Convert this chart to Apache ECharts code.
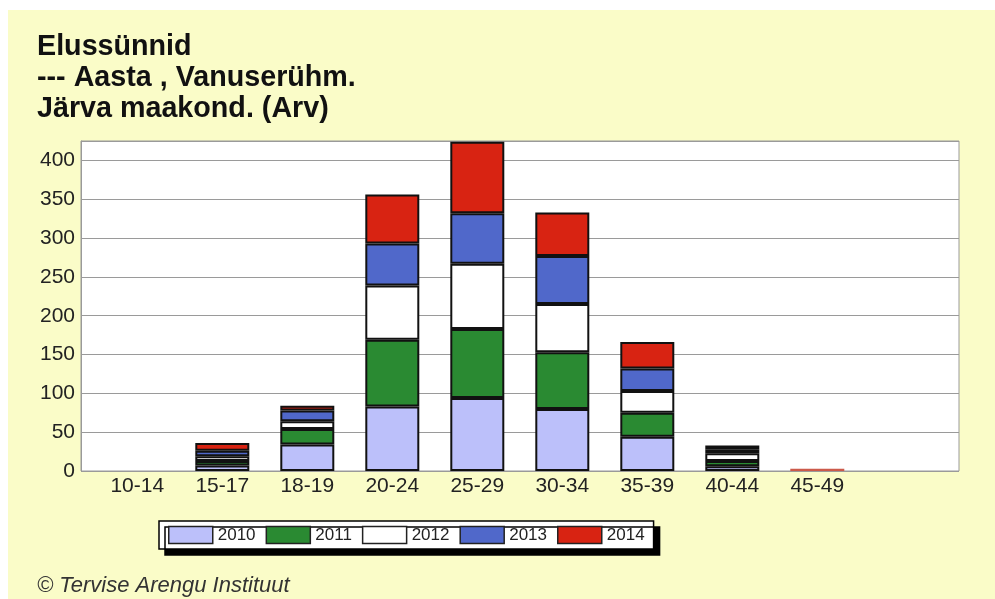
<!DOCTYPE html>
<html>
<head>
<meta charset="utf-8">
<script src="https://cdn.jsdelivr.net/npm/echarts@6/dist/echarts.min.js"></script>
<style>
html,body{margin:0;padding:0;background:#fff;}
#chart{width:995px;height:599px;background:linear-gradient(#FAFCC8,#FAFCC8) 8px 10px / 987px 589px no-repeat,#fff;}
</style>
</head>
<body>
<div id="chart"></div>
<script>
const categories = ['10-14','15-17','18-19','20-24','25-29','30-34','35-39','40-44','45-49'];
const years = ['2010','2011','2012','2013','2014'];
const v2010 = [0, 7, 34, 83, 94, 80, 44, 6, 0];
const v2011 = [0, 6, 20, 86, 89, 73, 31, 7, 0];
const v2012 = [0, 6, 10, 70, 84, 62, 28, 10, 0];
const v2013 = [0, 7, 14, 54, 65, 62, 29, 5, 0];
const v2014 = [0, 10, 6, 63, 92, 56, 34, 5, 3];
const yMin = 0, yMax = 425, yStep = 50;
const titleLines = ['Elussünnid', '--- Aasta , Vanuserühm.', 'Järva maakond. (Arv)'];
const footer = '© Tervise Arengu Instituut';

const seriesValues = [v2010, v2011, v2012, v2013, v2014];
const colors = ['#BCC0FA', '#2A8A32', '#FFFFFF', '#5068CA', '#D82312'];

const chart = echarts.init(document.getElementById('chart'), null, {renderer: 'canvas'});
const option = {
  animation: false,
  title: {
    text: titleLines.join('\n'),
    left: 37, top: 32, padding: 0,
    textStyle: {fontFamily: 'Liberation Sans, Arial, sans-serif', fontSize: 28.7, fontWeight: 'bold', color: '#111', lineHeight: 31}
  },
  grid: [
    {left: 81, top: 141, width: 878, height: 330, show: true, backgroundColor: '#fff', borderColor: '#9a9a9a', borderWidth: 1},
    {left: 94.8, top: 141, width: 765, height: 330}
  ],
  xAxis: [
    {gridIndex: 0, type: 'value', show: false, min: 0, max: 1},
    {gridIndex: 1, type: 'category', data: categories,
     axisLine: {show: false}, axisTick: {show: false},
     axisLabel: {fontFamily: 'Liberation Sans, Arial, sans-serif', fontSize: 21, color: '#222', margin: 5, interval: 0}}
  ],
  yAxis: [
    {gridIndex: 0, type: 'value', min: yMin, max: yMax, interval: yStep,
     axisLine: {show: true, lineStyle: {color: '#9a9a9a'}}, axisTick: {show: false},
     axisLabel: {fontFamily: 'Liberation Sans, Arial, sans-serif', fontSize: 21, color: '#222', margin: 6, showMaxLabel: false},
     splitLine: {show: true, lineStyle: {color: '#9a9a9a', width: 1}}},
    {gridIndex: 1, type: 'value', min: yMin, max: yMax, show: false, splitLine: {show: false}}
  ],
  legend: {
    data: years, left: 159, top: 521, orient: 'horizontal',
    itemWidth: 44, itemHeight: 17, itemGap: 10, padding: [4, 9],
    backgroundColor: '#fff', borderColor: '#000', borderWidth: 1.5,
    shadowColor: '#000', shadowOffsetX: 6, shadowOffsetY: 6, shadowBlur: 0,
    icon: 'rect', selectedMode: false,
    itemStyle: {borderWidth: 1.5, borderColor: '#222'},
    textStyle: {fontFamily: 'Liberation Sans, Arial, sans-serif', fontSize: 17, color: '#222', lineHeight: 20}
  },
  graphic: [
    {type: 'text', left: 37, top: 575,
     style: {text: footer, font: 'italic 22px "Liberation Sans", Arial, sans-serif', fill: '#333'}}
  ],
  series: years.map((y, i) => ({
    name: y, type: 'bar', stack: 'total', xAxisIndex: 1, yAxisIndex: 1,
    barWidth: 54,
    itemStyle: {color: colors[i], borderColor: '#111', borderWidth: 2},
    data: seriesValues[i].map(v => v === 0 ? '-' : (v <= 3 ? {value: v, itemStyle: {borderWidth: 0, color: '#CC5A4A'}} : v))
  }))
};
chart.setOption(option);
</script>
</body>
</html>
